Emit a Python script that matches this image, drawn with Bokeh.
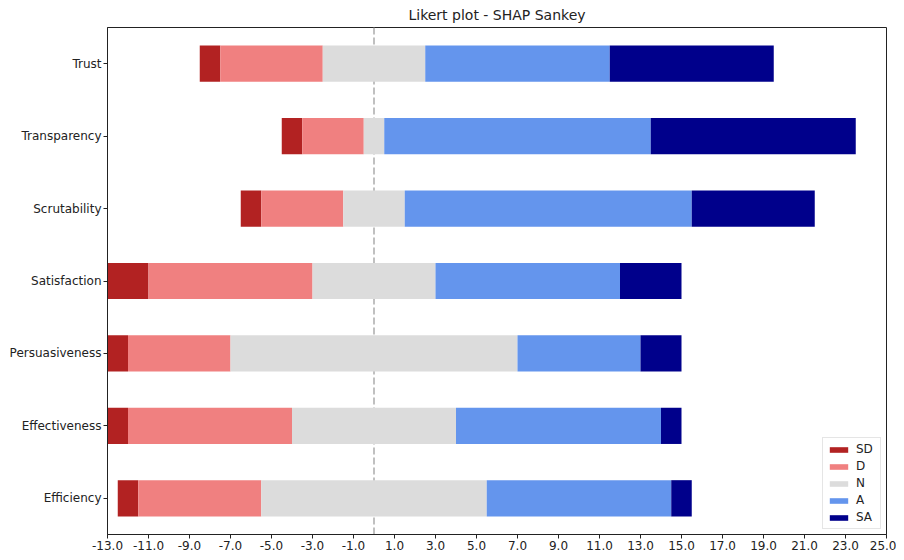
from bokeh.plotting import figure
from bokeh.models import (FactorRange, Range1d, FixedTicker, PrintfTickFormatter,
                          Span, Legend, LegendItem, ColumnDataSource)
from bokeh.embed import file_html
from bokeh.resources import INLINE

categories = ["Efficiency", "Effectiveness", "Persuasiveness", "Satisfaction",
              "Scrutability", "Transparency", "Trust"]
SD = [1, 1, 1, 2, 1, 1, 1]
D = [6, 8, 5, 8, 4, 3, 5]
N = [11, 8, 14, 6, 3, 1, 5]
A = [9, 10, 6, 9, 14, 13, 9]
SA = [1, 1, 2, 3, 6, 10, 8]
levels = ["SD", "D", "N", "A", "SA"]
colors = ["#b22222", "#f08080", "#dcdcdc", "#6495ed", "#00008b"]
x_ticks = list(range(-13, 26, 2))

series = [SD, D, N, A, SA]

p = figure(width=896, height=552, y_range=FactorRange(*categories),
           x_range=Range1d(-13, 25), output_backend="svg", toolbar_location=None,
           title="Likert plot - SHAP Sankey",
           min_border_left=107, min_border_right=10, min_border_bottom=0,
           min_border_top=6)

p.title.align = "center"
p.title.text_font = "DejaVu Sans"
p.title.text_font_size = "14px"
p.title.text_font_style = "normal"
p.title.text_color = "#222222"
p.title.standoff = 9

zero = Span(location=0, dimension="height", line_color="#c0c0c0",
            line_dash="7 3", line_width=2, level="underlay")
p.add_layout(zero)

offset = [-(sd + d + n / 2) for sd, d, n in zip(SD, D, N)]
cum = list(offset)
renderers = []
for lvl, vals, col in zip(levels, series, colors):
    left = list(cum)
    right = [l + v for l, v in zip(left, vals)]
    cum = right
    src = ColumnDataSource(dict(y=categories, left=left, right=right))
    r = p.hbar(y="y", left="left", right="right", height=0.5, source=src,
               fill_color=col, line_color=None)
    renderers.append((lvl, r))

legend = Legend(items=[LegendItem(label=l, renderers=[r]) for l, r in renderers],
                location="bottom_right")
legend.label_text_font = "DejaVu Sans"
legend.label_text_font_size = "12px"
legend.label_text_color = "#222222"
legend.glyph_width = 23
legend.glyph_height = 7
legend.label_height = 12
legend.label_standoff = 6
legend.spacing = 3
legend.padding = 4
legend.margin = 5
legend.border_line_color = "#cccccc"
legend.background_fill_alpha = 0.9
p.add_layout(legend)

p.xgrid.visible = False
p.ygrid.visible = False
p.outline_line_color = "#222222"
p.outline_line_width = 1

p.xaxis.ticker = FixedTicker(ticks=x_ticks)
p.xaxis.formatter = PrintfTickFormatter(format="%.1f")
for ax in (p.xaxis, p.yaxis):
    ax.axis_label = None
    ax.axis_line_color = "#222222"
    ax.major_tick_line_color = "#222222"
    ax.major_tick_out = 4
    ax.major_tick_in = 0
    ax.minor_tick_line_color = None
    ax.major_label_text_font = "DejaVu Sans"
    ax.major_label_text_font_size = "12px"
    ax.major_label_text_color = "#222222"
    ax.major_label_standoff = 2

p.background_fill_color = "white"
p.border_fill_color = "white"

open("out.html", "w").write(file_html(p, INLINE))
